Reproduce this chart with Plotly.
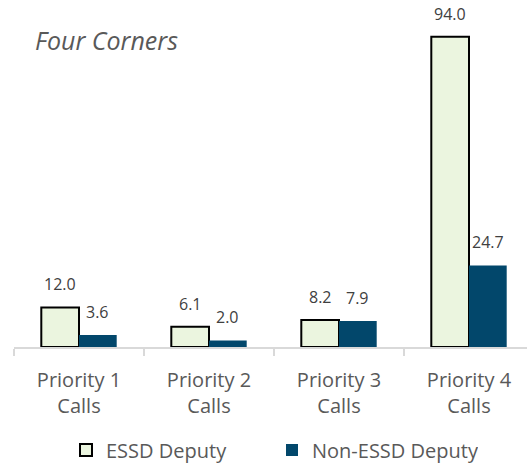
import plotly.graph_objects as go

categories = ["Priority 1<br>Calls", "Priority 2<br>Calls", "Priority 3<br>Calls", "Priority 4<br>Calls"]
essd_values = [12.0, 6.1, 8.2, 94.0]
non_essd_values = [3.6, 2.0, 7.9, 24.7]
series_names = ["ESSD Deputy", "Non-ESSD Deputy"]
title_text = "Four Corners"

FONT = "Open Sans, Noto Sans, sans-serif"

W, H = 527, 463
L, R, T, B = 14, 0, 10, 116
ppu = 3.3
ymax = (H - T - B) / ppu
BARGAP = 0.42
cat_px = 130.0
x_range = [-0.5, -0.5 + (W - L - R) / cat_px]
bar_px = cat_px * (1 - BARGAP) / 2

fig = go.Figure()
fig.add_trace(go.Bar(
    x=categories, y=essd_values, name=series_names[0],
    marker=dict(color="#EBF5DF", line=dict(color="#000000", width=2)),
    cliponaxis=False,
))
fig.add_trace(go.Bar(
    x=categories, y=non_essd_values, name=series_names[1],
    marker=dict(color="#02476B", line=dict(color="#02476B", width=0)),
    cliponaxis=False,
))

annotations = []
for vals, sign in ((essd_values, -1), (non_essd_values, 1)):
    for c, v in zip(categories, vals):
        annotations.append(dict(
            x=c, y=v, xref="x", yref="y", text=f"{v:.1f}", showarrow=False,
            xshift=sign * bar_px / 2, yshift=23, xanchor="center", yanchor="middle",
            font=dict(size=16, color="#404040", family=FONT),
        ))
annotations.append(dict(
    text=title_text, xref="paper", yref="paper",
    x=(33 - L) / (W - L - R), y=1 - (40 - T) / (H - T - B),
    xanchor="left", yanchor="middle", showarrow=False,
    font=dict(size=25, color="#595959", family=FONT, style="italic"),
))

plot_h = H - T - B
fig.update_layout(
    width=W, height=H,
    margin=dict(l=L, r=R, t=T, b=B, autoexpand=False),
    paper_bgcolor="white", plot_bgcolor="white",
    barmode="group", bargap=BARGAP, bargroupgap=0,
    font=dict(family=FONT, color="#595959"),
    showlegend=True,
    legend=dict(orientation="h", x=(272 - L) / (W - L - R), xanchor="center",
                y=-(450 - (H - B)) / plot_h, yanchor="middle",
                font=dict(size=20, color="#595959", family=FONT),
                entrywidth=161, traceorder="normal", itemwidth=30),
    xaxis=dict(
        range=x_range,
        showline=True, linecolor="#D9D9D9", linewidth=1.5,
        ticks="outside", tickson="boundaries", ticklen=7, tickcolor="#D9D9D9", tickwidth=1.5,
        tickfont=dict(size=20, color="#595959", family=FONT),
        ticklabelstandoff=14,
        showgrid=False, zeroline=False,
    ),
    yaxis=dict(range=[0, ymax], visible=False, showgrid=False, zeroline=False),
    annotations=annotations,
)

fig.write_html("out.html", config={"displayModeBar": False},
               post_script="document.body.style.margin='0';")
